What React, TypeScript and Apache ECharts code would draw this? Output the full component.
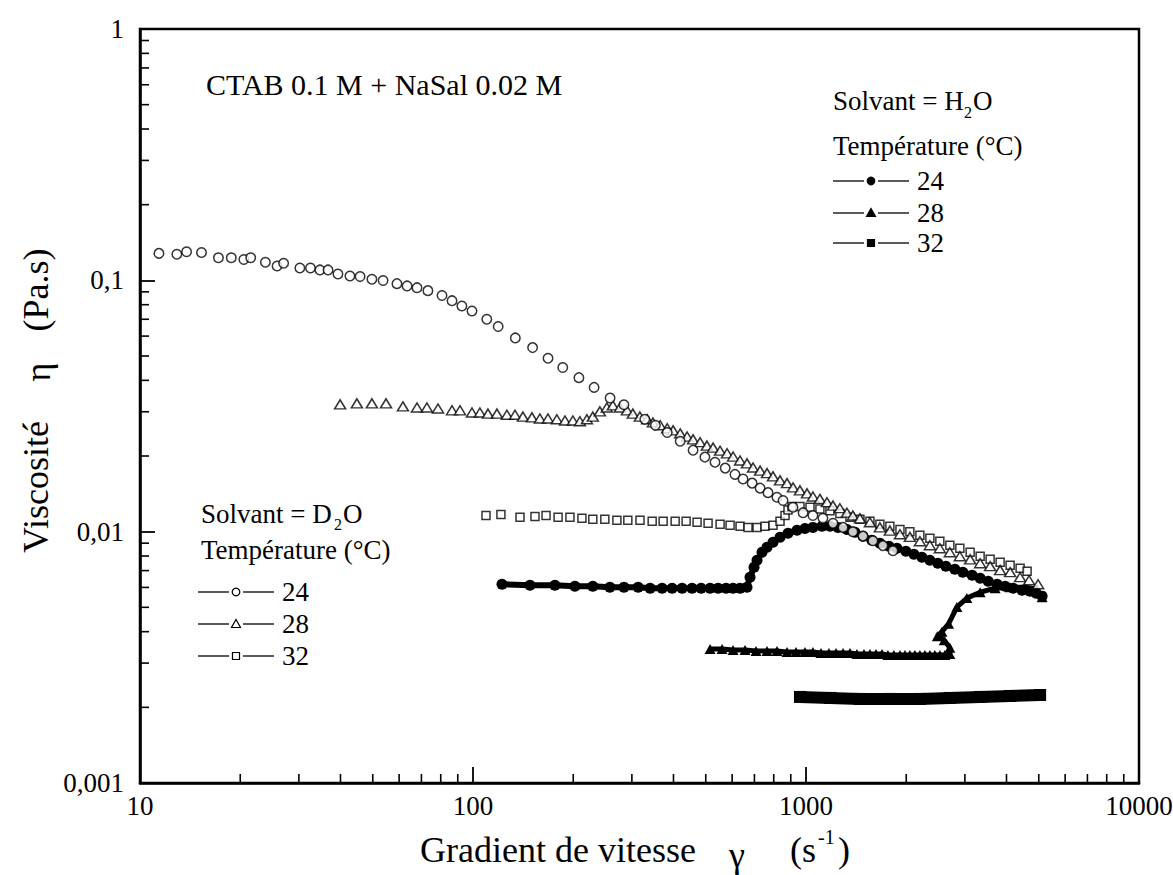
import React, { useEffect, useRef } from 'react';
import * as echarts from 'echarts';

// ---------- tick labels ----------
const xTickLabels = ['10', '100', '1000', '10000'];
const yTickLabels = ['0,001', '0,01', '0,1', '1'];
const xMinorTicks = [20, 30, 40, 50, 60, 70, 80, 90, 200, 300, 400, 500, 600, 700, 800, 900, 2000, 3000, 4000, 5000, 6000, 7000, 8000, 9000];
const yMinorTicks = [0.002, 0.003, 0.004, 0.005, 0.006, 0.007, 0.008, 0.009, 0.02, 0.03, 0.04, 0.05, 0.06, 0.07, 0.08, 0.09, 0.2, 0.3, 0.4, 0.5, 0.6, 0.7, 0.8, 0.9];

// ---------- data: [shear rate (s-1), viscosity (Pa.s)] ----------
// Solvant = H2O
const h2o24: number[][] = [
  [122.2, 0.00618], [148.3, 0.00612], [176.2, 0.00612], [202.3, 0.00607], [229.0, 0.00607], [257.6, 0.00601],
  [284, 0.00601], [313.3, 0.00601], [340.4, 0.00596], [369.8, 0.00596], [396.3, 0.00596], [424.6, 0.00596],
  [454.9, 0.00596], [484.2, 0.00596], [515.2, 0.00596], [544.5, 0.00596], [575.4, 0.00596], [603.9, 0.00596],
  [633.8, 0.00596], [665.0, 0.00601], [679.1, 0.00659], [698.2, 0.00722], [712.8, 0.00769], [737.8, 0.00828],
  [763.8, 0.00867], [796.1, 0.00908], [835.6, 0.0095], [883.0, 0.00986], [939.7, 0.01014], [993, 0.0103],
  [1049, 0.0104], [1117, 0.0105], [1180, 0.0105], [1247, 0.0104], [1327, 0.0102], [1403, 0.00995],
  [1483, 0.00959], [1577, 0.00925], [1667, 0.00899], [1775, 0.00875], [1875, 0.00859], [1995, 0.00836],
  [2109, 0.00813], [2229, 0.00791], [2355, 0.00769], [2488, 0.00749], [2630, 0.00729], [2799, 0.00709],
  [2958, 0.0069], [3155, 0.00671], [3334, 0.00653], [3524, 0.00635], [3750, 0.00618], [3963, 0.00607],
  [4188, 0.00596], [4456, 0.00585], [4709, 0.00579], [4909, 0.00569], [5117, 0.00554],
];
const h2o28: number[][] = [
  [515.2, 0.00341], [559.7, 0.00341], [603.9, 0.00338], [656.1, 0.00338], [707.9, 0.00335], [763.8, 0.00335],
  [818.4, 0.00335], [876.9, 0.00332], [933.3, 0.00332], [993, 0.00332], [1049, 0.00332], [1109, 0.00329],
  [1172, 0.00329], [1231, 0.00329], [1292, 0.00329], [1355, 0.00329], [1422, 0.00326], [1493, 0.00326],
  [1556, 0.00326], [1622, 0.00326], [1691, 0.00326], [1762, 0.00323], [1836, 0.00323], [1915, 0.00323],
  [1982, 0.00323], [2051, 0.00323], [2123, 0.00323], [2198, 0.00323], [2275, 0.00323], [2355, 0.00323],
  [2437, 0.00323], [2523, 0.00323], [2612, 0.00323], [2704, 0.00326], [2704, 0.00345], [2600, 0.0037],
  [2480, 0.00384], [2560, 0.004], [2680, 0.0043], [2839, 0.00501], [3041, 0.00544], [3334, 0.00574],
  [3698, 0.00596], [4102, 0.00601], [4546, 0.00601], [4943, 0.0059], [5117, 0.00548],
];
const h2o32: number[][] = [
  [959, 0.0022], [1180, 0.00218], [1452, 0.00216], [1786, 0.00216], [2198, 0.00216], [2704, 0.00218],
  [3334, 0.0022], [4102, 0.00222], [5047, 0.00224],
];
// Solvant = D2O
const d2o24: number[][] = [
  [11.4, 0.128], [12.9, 0.127], [13.8, 0.13], [15.3, 0.129], [17.2, 0.123], [18.8, 0.123], [20.5, 0.121],
  [21.5, 0.123], [23.8, 0.118], [25.8, 0.114], [27.0, 0.117], [30.2, 0.112], [32.5, 0.112], [34.7, 0.11],
  [36.7, 0.11], [39.3, 0.106], [42.7, 0.104], [45.8, 0.1035], [49.7, 0.101], [53.7, 0.0998], [59.1, 0.097],
  [63.4, 0.095], [67.9, 0.0935], [73.2, 0.091], [80.7, 0.087], [86.5, 0.083], [92.6, 0.079], [99.3, 0.0755],
  [110, 0.07], [119, 0.0655], [134, 0.059], [151, 0.054], [168, 0.049], [186, 0.045], [208, 0.041],
  [231, 0.0375], [258, 0.034], [284, 0.032], [328, 0.028], [353, 0.0265], [383, 0.0248], [419, 0.0229],
  [458, 0.0211], [497, 0.0198], [533, 0.0189], [572, 0.0179], [612, 0.0169], [647, 0.0162], [689, 0.0156],
  [728, 0.0149], [769, 0.0143], [818, 0.0137], [853, 0.0133], [914, 0.0125], [980, 0.0119], [1049, 0.0116],
  [1124, 0.0113], [1205, 0.0108], [1292, 0.0104], [1383, 0.01], [1483, 0.0096], [1588, 0.0092],
  [1702, 0.0088], [1824, 0.0084],
];
const d2o28: number[][] = [
  [39.9, 0.0321], [44.8, 0.0324], [49.7, 0.0324], [54.8, 0.0324], [61.6, 0.0315], [67.9, 0.0312], [72.7, 0.0312],
  [78.5, 0.0309], [86.5, 0.0304], [91.4, 0.0304], [99.3, 0.0298], [104.9, 0.0298], [110.9, 0.0295], [118.0, 0.0295],
  [126.4, 0.0292], [133.7, 0.0292], [141.2, 0.0287], [150.3, 0.0285], [158.8, 0.0282], [167.9, 0.0282],
  [178.6, 0.028], [188.9, 0.0277], [199.5, 0.0277], [209.4, 0.0275], [219.8, 0.028], [229.0, 0.0287],
  [240.4, 0.0301], [252.3, 0.0312], [263.0, 0.0318], [276.1, 0.0312], [290, 0.0304], [302, 0.0295],
  [317, 0.0287], [333.4, 0.028], [347, 0.0272], [364.8, 0.0265], [383, 0.0258], [399, 0.0253], [419, 0.0246],
  [439.5, 0.0239], [458, 0.0233], [480.8, 0.0227], [504, 0.022], [526, 0.0216], [552, 0.021], [579.4, 0.0205],
  [604, 0.0199], [633.8, 0.0192], [665, 0.0187], [693.4, 0.018], [728, 0.0175], [763.8, 0.0171], [796, 0.0166],
  [835.6, 0.016], [877, 0.0156], [914, 0.015], [959, 0.0146], [1007, 0.0142], [1049, 0.0138], [1101, 0.0135],
  [1156, 0.0131], [1205, 0.0127], [1264, 0.0124], [1327, 0.0119], [1383, 0.0116], [1452, 0.0113],
  [1556, 0.0109], [1667, 0.0104], [1786, 0.0101], [1915, 0.00977], [2051, 0.00953], [2198, 0.00916],
  [2355, 0.00883], [2523, 0.00859], [2704, 0.00828], [2897, 0.00798], [3111, 0.00776], [3334, 0.00749],
  [3572, 0.00729], [3828, 0.00703], [4102, 0.0069], [4395, 0.00659], [4677, 0.00641], [4977, 0.00618],
];
const d2o32: number[][] = [
  [109.4, 0.0116], [121.3, 0.0117], [138.4, 0.0114], [153.5, 0.0115], [165.7, 0.0116], [180.1, 0.0114],
  [195.5, 0.0114], [212.4, 0.0113], [229.0, 0.0112], [248.8, 0.0112], [270.5, 0.0111], [291.7, 0.0111],
  [317.3, 0.0111], [345.2, 0.011], [372.4, 0.011], [404.6, 0.011], [436.5, 0.011], [470.9, 0.0109],
  [508.1, 0.0108], [552.1, 0.0107], [591.6, 0.0106], [633.8, 0.0105], [669.8, 0.0104], [712.8, 0.0104],
  [753.3, 0.0105], [796.1, 0.0106], [835.6, 0.011], [865, 0.0116], [883, 0.0122], [907.8, 0.0126],
  [959.3, 0.0126], [1028, 0.0125], [1101, 0.0123], [1180, 0.0121], [1264, 0.0118], [1355, 0.0114],
  [1452, 0.0112], [1556, 0.011], [1667, 0.0107], [1786, 0.0105], [1915, 0.0102], [2051, 0.01],
  [2198, 0.00968], [2355, 0.00941], [2523, 0.00916], [2704, 0.00883], [2897, 0.00859], [3111, 0.00828],
  [3334, 0.00798], [3572, 0.00776], [3828, 0.00756], [4102, 0.00735], [4395, 0.00716], [4613, 0.00696],
];

const FONT = '"Liberation Serif", "Times New Roman", serif';

function txt(text: string, x: number, y: number, size: number, align = 'left', rotation = 0) {
  return {
    type: 'text', x, y, rotation, silent: true,
    style: {
      text, fill: '#000', font: `${size}px ${FONT}`,
      align, verticalAlign: 'middle', textAlign: align, textVerticalAlign: 'middle',
    },
  };
}

function legendRow(x: number, y: number, marker: string, filled: boolean, label: string) {
  const mx = x + 38;
  const els: any[] = [
    { type: 'line', silent: true, shape: { x1: x, y1: y, x2: mx - 7, y2: y }, style: { stroke: '#000', lineWidth: 1.3 } },
    { type: 'line', silent: true, shape: { x1: mx + 7, y1: y, x2: x + 76, y2: y }, style: { stroke: '#000', lineWidth: 1.3 } },
  ];
  const st = { fill: filled ? '#000' : '#fff', stroke: '#000', lineWidth: 1.2 };
  if (marker === 'circle') els.push({ type: 'circle', silent: true, shape: { cx: mx, cy: y, r: 3.8 }, style: st });
  if (marker === 'triangle') els.push({ type: 'polygon', silent: true, shape: { points: [[mx, y - 4.5], [mx + 4.5, y + 3.5], [mx - 4.5, y + 3.5]] }, style: st });
  if (marker === 'rect') els.push({ type: 'rect', silent: true, shape: { x: mx - 3.5, y: y - 3.5, width: 7, height: 7 }, style: st });
  els.push(txt(label, x + 84, y, 27));
  return els;
}

export default function App() {
  const ref = useRef<HTMLDivElement>(null);
  useEffect(() => {
    document.body.style.margin = '0';
    const chart = echarts.init(ref.current!, undefined, { renderer: 'svg' });

    const tickSeries = (data: number[][], dir: 'x' | 'y') => ({
      type: 'custom', silent: true, z: 10, clip: false,
      data,
      renderItem: (_p: any, api: any) => {
        const p = api.coord([api.value(0), api.value(1)]);
        const shape = dir === 'x'
          ? { x1: p[0], y1: p[1], x2: p[0], y2: p[1] - 9 }
          : { x1: p[0], y1: p[1], x2: p[0] + 9, y2: p[1] };
        return { type: 'line', shape, style: { stroke: '#000', lineWidth: 1.6 } };
      },
    });

    const graphic: any[] = [
      txt('CTAB 0.1 M + NaSal 0.02 M', 206, 84, 30),
      // H2O legend
      txt('Solvant = H', 833, 101, 27),
      txt('2', 964, 112, 16),
      txt('O', 973, 101, 27),
      txt('Température (°C)', 833, 146, 27),
      ...legendRow(833, 181, 'circle', true, '24'),
      ...legendRow(833, 213, 'triangle', true, '28'),
      ...legendRow(833, 243, 'rect', true, '32'),
      // D2O legend
      txt('Solvant = D', 201, 514, 27),
      txt('2', 334, 524, 16),
      txt('O', 343, 514, 27),
      txt('Température (°C)', 201, 550, 27),
      ...legendRow(198, 592, 'circle', false, '24'),
      ...legendRow(198, 624, 'triangle', false, '28'),
      ...legendRow(198, 656, 'rect', false, '32'),
      // axis titles
      txt('Gradient de vitesse', 420, 850, 36),
      txt('γ', 737, 855, 36, 'center'),
      txt('(s', 790, 850, 36),
      txt('-1', 818, 837, 20),
      txt(')', 838, 850, 36),
      txt('Viscosité', 36, 487, 36, 'center', Math.PI / 2),
      txt('η', 38, 372, 36, 'center', Math.PI / 2),
      txt('(Pa.s)', 36, 290, 36, 'center', Math.PI / 2),
    ];

    const open = (sym: string, size: any, data: number[][], name: string) => ({
      name, type: 'scatter', data, symbol: sym, symbolSize: size, z: 4,
      itemStyle: { color: '#fff', borderColor: '#000', borderWidth: 1.5 },
    });
    const filled = (sym: string, size: any, data: number[][], name: string, lw: number) => ({
      name, type: 'line', data, symbol: sym, symbolSize: size, showSymbol: true, z: 3,
      lineStyle: { color: '#000', width: lw }, itemStyle: { color: '#000', borderColor: '#000', borderWidth: 0 },
    });

    chart.setOption({
      animation: false,
      backgroundColor: '#fff',
      grid: {
        left: 140, top: 29, right: 34, bottom: 92, show: true,
        borderColor: '#000', borderWidth: 2.5, backgroundColor: 'transparent',
        containLabel: false, outerBoundsMode: 'none',
      },
      xAxis: {
        type: 'log', logBase: 10, min: 10, max: 10000,
        axisLine: { show: true, lineStyle: { color: '#000', width: 2.5 } },
        axisTick: { show: true, inside: true, length: 16, lineStyle: { color: '#000', width: 1.8 } },
        splitLine: { show: false },
        axisLabel: {
          color: '#000', fontFamily: FONT, fontSize: 27, margin: 9,
          formatter: (v: number) => xTickLabels[Math.round(Math.log10(v)) - 1] ?? '',
        },
      },
      yAxis: {
        type: 'log', logBase: 10, min: 0.001, max: 1,
        axisLine: { show: true, lineStyle: { color: '#000', width: 2.5 } },
        axisTick: { show: true, inside: true, length: 15, lineStyle: { color: '#000', width: 1.8 } },
        splitLine: { show: false },
        axisLabel: {
          color: '#000', fontFamily: FONT, fontSize: 27, margin: 16,
          formatter: (v: number) => yTickLabels[Math.round(Math.log10(v)) + 3] ?? '',
        },
      },
      series: [
        filled('rect', 12, h2o32, 'H2O 32', 12),
        filled('triangle', [11, 10], h2o28, 'H2O 28', 5),
        filled('circle', 11, h2o24, 'H2O 24', 6),
        open('rect', 8, d2o32, 'D2O 32'),
        open('triangle', [11, 9], d2o28, 'D2O 28'),
        open('circle', 9.5, d2o24, 'D2O 24'),
        tickSeries(xMinorTicks.map((v) => [v, 0.001]), 'x'),
        tickSeries(yMinorTicks.map((v) => [10, v]), 'y'),
      ],
      graphic,
    });
    return () => chart.dispose();
  }, []);
  return <div ref={ref} style={{ width: 1173, height: 875 }} />;
}
